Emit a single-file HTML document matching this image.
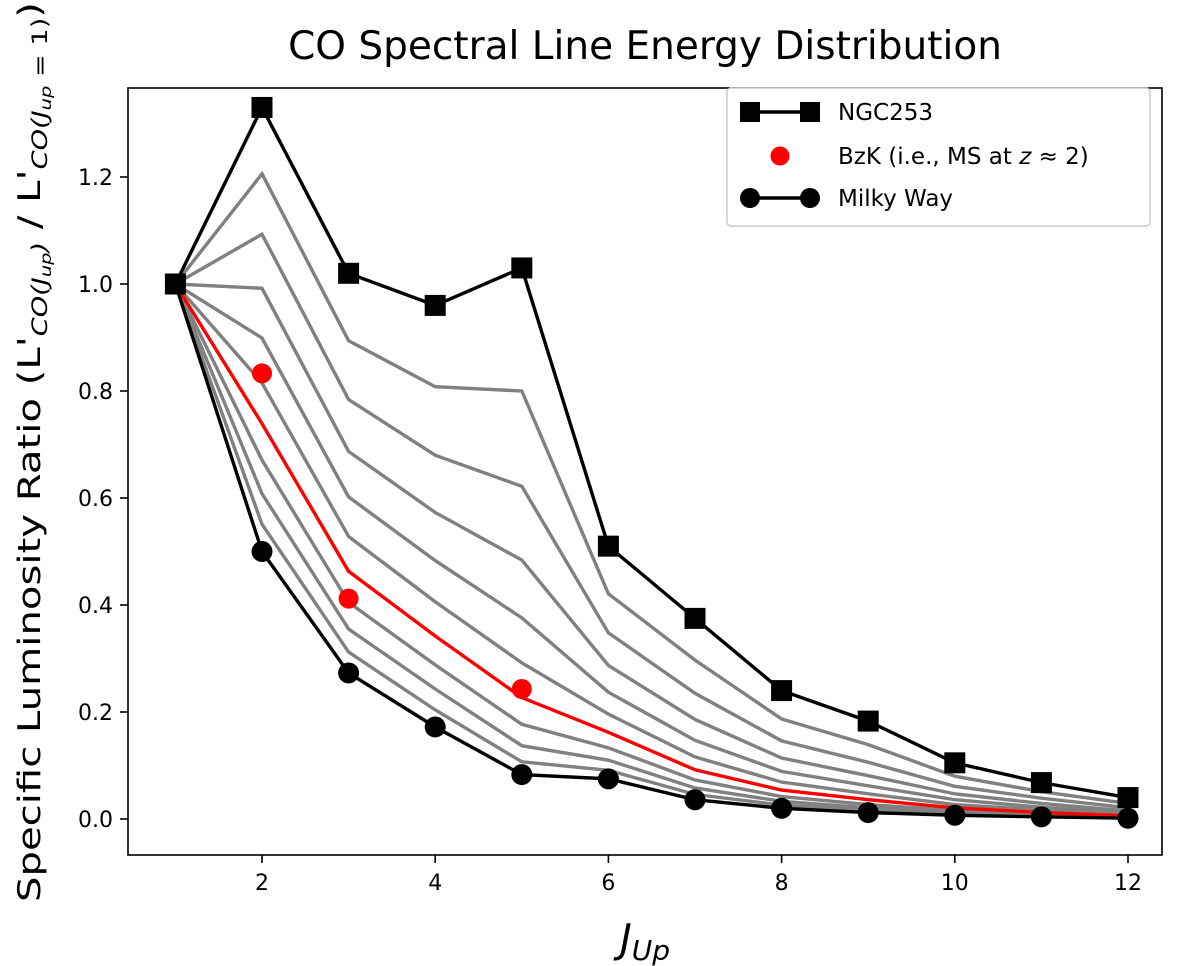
<!DOCTYPE html>
<html><head><meta charset="utf-8"><style>
html,body{margin:0;padding:0;background:#fff;}
svg{display:block;font-family:"DejaVu Sans","Liberation Sans",sans-serif;}
</style></head><body>
<svg id="chart" width="1200" height="966" viewBox="0 0 1200 966" xmlns="http://www.w3.org/2000/svg">
<text x="645" y="59" font-size="39" text-anchor="middle" fill="#000">CO Spectral Line Energy Distribution</text>
<g id="plot"></g>
<rect x="128" y="88" width="1034" height="767" fill="none" stroke="#000" stroke-width="1.6"/>
<g id="ticks"></g>
<text x="645" y="952" font-size="40" font-style="italic" text-anchor="middle">J<tspan font-size="28" dy="8">Up</tspan></text>
<text transform="translate(40,452) rotate(-90)" font-size="31" text-anchor="middle" textLength="900" lengthAdjust="spacingAndGlyphs">Specific Luminosity Ratio (L'<tspan font-size="21" dy="7" font-style="italic">CO(J</tspan><tspan font-size="15" dy="4" font-style="italic">up</tspan><tspan font-size="21" dy="-4" font-style="italic">)</tspan><tspan dy="-7"> / L'</tspan><tspan font-size="21" dy="7" font-style="italic">CO(J</tspan><tspan font-size="15" dy="4" font-style="italic">up</tspan><tspan font-size="21" dy="-4"> = 1)</tspan><tspan dy="-7">)</tspan></text>
<g>
<rect x="727" y="88" width="423" height="138" rx="4" fill="#fff" stroke="#ccc" stroke-width="1.5"/>
<g>
<line x1="750" y1="112" x2="810" y2="112" stroke="#000" stroke-width="3.4"/>
<rect x="740" y="102" width="20" height="20" fill="#000"/><rect x="800" y="102" width="20" height="20" fill="#000"/>
<text x="838" y="120" font-size="23">NGC253</text></g>
<g>
<circle cx="780" cy="156" r="9.5" fill="red"/>
<text x="838" y="164" font-size="23">BzK (i.e., MS at <tspan font-style="italic">z</tspan> ≈ 2)</text></g>
<g>
<line x1="750" y1="198" x2="810" y2="198" stroke="#000" stroke-width="3.4"/>
<circle cx="750" cy="198" r="10" fill="#000"/><circle cx="810" cy="198" r="10" fill="#000"/>
<text x="838" y="206" font-size="23">Milky Way</text></g>
</g>
</svg>
<script>
const jUp = [1,2,3,4,5,6,7,8,9,10,11,12];
const ngc253 = [1,1.33,1.02,0.96,1.03,0.51,0.375,0.24,0.183,0.105,0.068,0.04];
const milkyWay = [1,0.5,0.273,0.172,0.083,0.075,0.036,0.02,0.012,0.007,0.004,0.0015];
const grid1 = [1,0.551,0.312,0.204,0.107,0.091,0.046,0.026,0.016,0.009,0.005,0.002];
const grid2 = [1,0.608,0.355,0.243,0.137,0.110,0.058,0.033,0.021,0.012,0.007,0.003];
const grid3 = [1,0.671,0.405,0.288,0.177,0.133,0.073,0.042,0.027,0.016,0.009,0.004];
const redModel = [1,0.739,0.463,0.342,0.227,0.162,0.092,0.054,0.036,0.021,0.012,0.006];
const grid5 = [1,0.815,0.528,0.406,0.292,0.196,0.116,0.069,0.047,0.027,0.017,0.008];
const grid6 = [1,0.899,0.602,0.483,0.376,0.237,0.147,0.089,0.062,0.036,0.022,0.011];
const grid7 = [1,0.992,0.687,0.573,0.484,0.287,0.186,0.114,0.081,0.047,0.029,0.015];
const grid8 = [1,1.093,0.784,0.680,0.622,0.348,0.235,0.146,0.106,0.061,0.039,0.021];
const grid9 = [1,1.206,0.894,0.808,0.800,0.421,0.297,0.187,0.139,0.080,0.051,0.029];
const bzkJ = [2,3,5];
const bzkVals = [0.833,0.412,0.243];
const xTicks = [2,4,6,8,10,12];
const yTicks = [0,0.2,0.4,0.6,0.8,1.0,1.2];
const yTickLabels = ["0.0","0.2","0.4","0.6","0.8","1.0","1.2"];

const NS="http://www.w3.org/2000/svg";
function sx(v){return 175.4+(v-1)*86.6;}
function sy(v){return 819-v*535;}
const plot=document.getElementById('plot');
const ticks=document.getElementById('ticks');
function mk(tag,attrs,parent){const e=document.createElementNS(NS,tag);for(const k in attrs)e.setAttribute(k,attrs[k]);parent.appendChild(e);return e;}
function line(vals,color,name){
  const p=mk('polyline',{points:vals.map((v,i)=>sx(jUp[i])+','+sy(v)).join(' '),fill:'none',stroke:color,'stroke-width':3.4,'stroke-linejoin':'miter'},plot);
  
  
}
const grays=[grid1,grid2,grid3,grid5,grid6,grid7,grid8,grid9];
grays.forEach((g,i)=>line(g,'#808080','model-line-gray'));
line(redModel,'#ff0000','model-line-red');
line(ngc253,'#000','ngc253-line');
line(milkyWay,'#000','milky-way-line');
ngc253.forEach((v,i)=>{
  const r=mk('rect',{x:sx(jUp[i])-10.5,y:sy(v)-10.5,width:21,height:21,fill:'#000'},plot);
  
  
});
milkyWay.forEach((v,i)=>{
  const c=mk('circle',{cx:sx(jUp[i]),cy:sy(v),r:10.5,fill:'#000'},plot);
  
  
});
bzkVals.forEach((v,i)=>{
  const c=mk('circle',{cx:sx(bzkJ[i]),cy:sy(v),r:10,fill:'#ff0000'},plot);
  
  
});
xTicks.forEach(t=>{
  const l=mk('line',{x1:sx(t),x2:sx(t),y1:855,y2:863,stroke:'#000','stroke-width':1.6},ticks);
  
  
  const tx=mk('text',{x:sx(t),y:890,'font-size':22,'text-anchor':'middle'},ticks);
  tx.textContent=String(t);
  
  
});
yTicks.forEach((t,i)=>{
  const l=mk('line',{x1:120,x2:128,y1:sy(t),y2:sy(t),stroke:'#000','stroke-width':1.6},ticks);
  
  
  const tx=mk('text',{x:113,y:sy(t)+8,'font-size':22,'text-anchor':'end'},ticks);
  tx.textContent=yTickLabels[i];
  
  
});
</script>
</body></html>
